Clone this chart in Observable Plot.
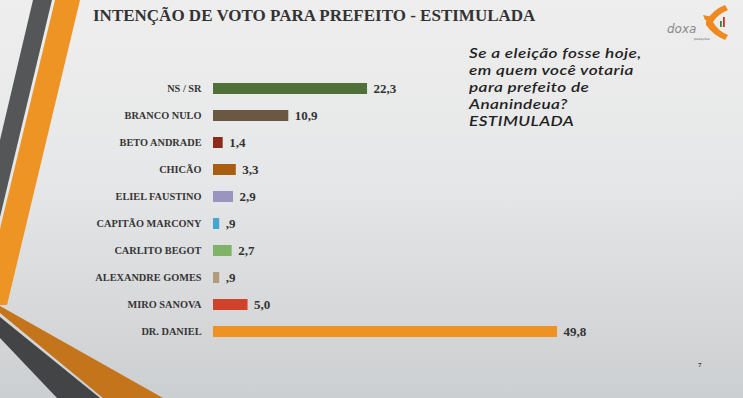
<!DOCTYPE html>
<html>
<head>
<meta charset="utf-8">
<script src="https://cdn.jsdelivr.net/npm/d3@7"></script>
<script src="https://cdn.jsdelivr.net/npm/@observablehq/plot@0.6"></script>
<style>
  html, body { margin: 0; padding: 0; }
  body { width: 743px; height: 398px; overflow: hidden; }
  #stage {
    position: relative; width: 743px; height: 398px; overflow: hidden;
    background: linear-gradient(to bottom, #eeeeee 0%, #e6e7e8 45%, #d3d5d7 85%, #cccfd1 100%);
  }
  #deco, #chart { position: absolute; left: 0; top: 0; }
  #chart svg { background: transparent; }
  #title {
    position: absolute; left: 93px; top: 6px;
    font-family: "Liberation Serif", serif; font-weight: bold; font-size: 17px;
    color: #333; white-space: nowrap;
  }
  .q {
    position: absolute; left: 469px;
    font-family: "Lato", sans-serif; font-style: italic; font-weight: 600; font-size: 14.2px;
    letter-spacing: 0.35px; transform: scaleX(1.21); transform-origin: 0 0;
    line-height: 17px; height: 17px; color: #1f1f1f; white-space: nowrap;
  }
  #page {
    position: absolute; left: 698px; top: 361px;
    font-family: "Liberation Serif", serif; font-weight: bold; font-size: 7px; color: #333;
  }
  g[aria-label="cats"] text { letter-spacing: 1.5px; }
  g[aria-label="vals"] text { letter-spacing: 1.5px; }
</style>
</head>
<body>
<div id="stage">
  <svg id="deco" width="743" height="398">
    <!-- left decorative stripes -->
    <polygon points="33,0 52,0 0,217 0,140" fill="#555657"/>
    <polygon points="55,0 80,0 7,305 0,305 0,229" fill="#ee9425"/>
    <polygon points="0,306 0,313 103,398 163,398" fill="#c4741a"/>
    <polygon points="0,317 0,338 57,398 100,398" fill="#434445"/>
    <!-- logo -->
    <path d="M706,21 Q714,9 725,5 L728,10 Q718,14 713,22 Q718,31 728,35 L725,40 Q713,35 706,25 Z" fill="#ee8a1f"/>
    <path d="M713,17 L703,15 L705,20 L712,21 Z" fill="#ee8a1f"/>
    <rect x="720" y="21" width="1.8" height="6" fill="#2e8b3a"/>
    <rect x="723" y="17" width="1.8" height="10" fill="#c9302c"/>
    <text x="667" y="33" font-family="DejaVu Sans" font-style="italic" font-size="12" fill="#8a8a8a">doxa</text>
    <text x="694" y="40" font-family="DejaVu Sans" font-size="3.5" fill="#777">pesquisa</text>
  </svg>
  <div id="chart"></div>
  <div id="title">INTENÇÃO DE VOTO PARA PREFEITO - ESTIMULADA</div>
  <div class="q" style="top:44px">Se a eleição fosse hoje,</div>
  <div class="q" style="top:61px">em quem você votaria</div>
  <div class="q" style="top:78px">para prefeito de</div>
  <div class="q" style="top:95px">Ananindeua?</div>
  <div class="q" style="top:112px">ESTIMULADA</div>
  <div id="page">7</div>
</div>
<script>
const categories = ["NS / SR", "BRANCO NULO", "BETO ANDRADE", "CHICÃO", "ELIEL FAUSTINO",
  "CAPITÃO MARCONY", "CARLITO BEGOT", "ALEXANDRE GOMES", "MIRO SANOVA", "DR. DANIEL"];
const values = [22.3, 10.9, 1.4, 3.3, 2.9, 0.9, 2.7, 0.9, 5.0, 49.8];
const valueLabels = ["22,3", "10,9", "1,4", "3,3", "2,9", ",9", "2,7", ",9", "5,0", "49,8"];
const barColors = ["#4f7139", "#6b5843", "#8c2b1a", "#a85d10", "#9b93c0",
  "#45a7cf", "#7fb468", "#b09b7d", "#d1422b", "#ee9323"];

const data = categories.map((c, i) => ({cat: c, value: values[i], label: valueLabels[i], color: barColors[i]}));

const chart = Plot.plot({
  width: 743,
  height: 398,
  marginLeft: 213,
  marginRight: 115.5,
  marginTop: 81.5,
  marginBottom: 59,
  style: {background: "transparent", overflow: "visible"},
  x: {domain: [0, 60], axis: null},
  y: {domain: categories, paddingInner: 0.58, paddingOuter: 0, align: 0.5, axis: null},
  marks: [
    Plot.barX(data, {x: "value", y: "cat", fill: "color"}),
    Plot.text(data, {x: "value", y: "cat", text: "label", dx: 6, textAnchor: "start",
      fontFamily: "Liberation Serif", fontWeight: "bold", fontSize: 13, fill: "#333", ariaLabel: "vals"}),
    Plot.text(data, {x: 0, y: "cat", text: "cat", dx: -12, textAnchor: "end",
      fontFamily: "Liberation Serif", fontWeight: "bold", fontSize: 10.3, fill: "#353535", ariaLabel: "cats"})
  ]
});
document.getElementById("chart").appendChild(chart);
</script>
</body>
</html>
